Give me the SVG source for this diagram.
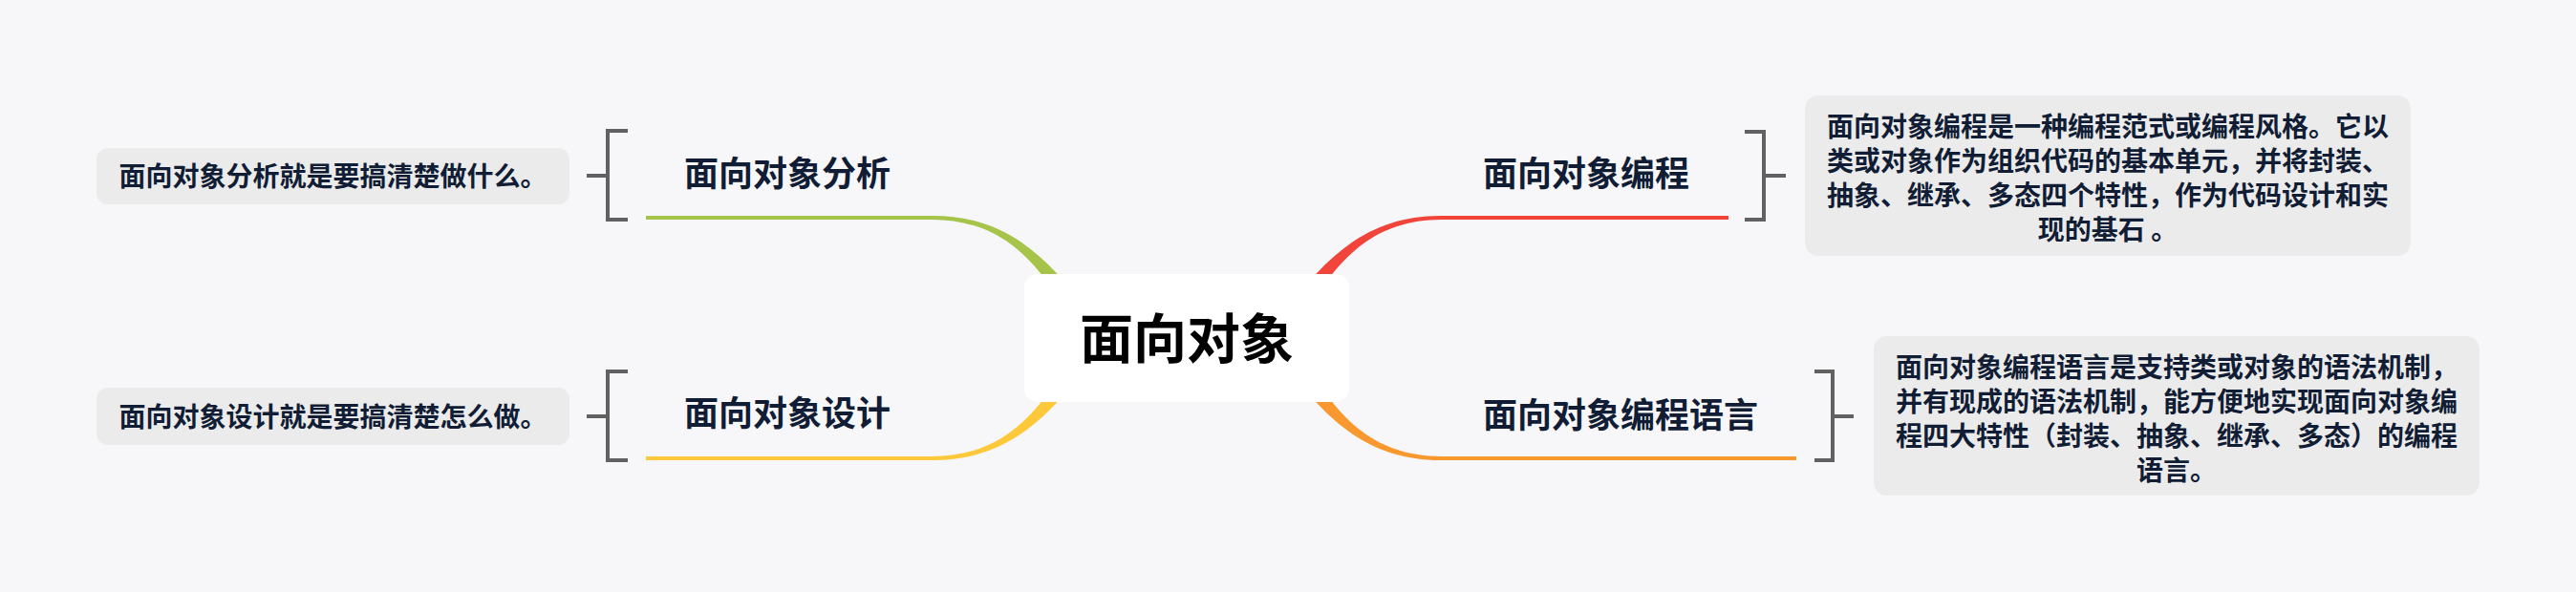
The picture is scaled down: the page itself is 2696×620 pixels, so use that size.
<svg xmlns="http://www.w3.org/2000/svg" width="2696" height="620" viewBox="0 0 2696 620">
  <style>
    .branch { font-family: "Noto Sans CJK SC", "Noto Sans", sans-serif; font-weight: 700; font-size: 36px; fill: #111d35; }
    .desc { font-family: "Noto Sans CJK SC", "Noto Sans", sans-serif; font-weight: 700; font-size: 28px; fill: #111d35; text-anchor: middle; }
    .main { font-family: "Noto Sans CJK SC", "Noto Sans", sans-serif; font-weight: 700; font-size: 56px; fill: #000000; text-anchor: middle; }
    .box { fill: #ebebeb; }
    .bracket { fill: none; stroke: #616161; stroke-width: 4; }
  </style>
  <rect x="0" y="0" width="2696" height="620" fill="#f7f7f9"/>

  <g id="connectors">
    <path fill="#a6c44a" d="M 676 226 H 975 C 1050 225.5 1095 266.7 1137.5 325 L 1122.5 335 C 1085 273.3 1050 230.5 975 230 H 676 Z"/>
    <path fill="#f1443a" d="M 1809 226 H 1509 C 1434 225.5 1389 266.7 1346.5 325 L 1361.5 335 C 1399 273.3 1434 230.5 1509 230 H 1809 Z"/>
    <path fill="#fdc93b" d="M 676 482 H 975 C 1050 482.5 1095 441.3 1137.5 383 L 1122.5 373 C 1085 434.7 1050 477.5 975 478 H 676 Z"/>
    <path fill="#f8982f" d="M 1880 482 H 1509 C 1434 482.5 1389 441.3 1346.5 383 L 1361.5 373 C 1399 434.7 1434 477.5 1509 478 H 1880 Z"/>
    <path class="bracket" d="M 657 137 H 636 V 230 H 657 M 636 184 H 614"/>
    <path class="bracket" d="M 657 389 H 636 V 482 H 657 M 636 436 H 614"/>
    <path class="bracket" d="M 1826 138 H 1846 V 230 H 1826 M 1846 184 H 1869"/>
    <path class="bracket" d="M 1899 389 H 1918 V 482 H 1899 M 1918 436 H 1940"/>
  </g>

  <g id="root">
    <rect x="1072" y="287" width="340" height="134" rx="14" fill="#ffffff"/>
    <text class="main" x="1242" y="375">面向对象</text>
  </g>

  <g id="node-analysis">
    <text class="branch" x="716" y="195">面向对象分析</text>
  </g>
  <g id="node-design">
    <text class="branch" x="716" y="446">面向对象设计</text>
  </g>
  <g id="node-programming">
    <text class="branch" x="1552" y="195">面向对象编程</text>
  </g>
  <g id="node-language">
    <text class="branch" x="1552" y="448">面向对象编程语言</text>
  </g>

  <g id="desc-analysis">
    <rect class="box" x="101" y="155" width="495" height="59" rx="12"/>
    <text class="desc" x="348.5" y="194.5">面向对象分析就是要搞清楚做什么。</text>
  </g>
  <g id="desc-design">
    <rect class="box" x="101" y="406" width="495" height="60" rx="12"/>
    <text class="desc" x="348.5" y="446.5">面向对象设计就是要搞清楚怎么做。</text>
  </g>
  <g id="desc-programming">
    <rect class="box" x="1889" y="100" width="634" height="168" rx="14"/>
    <text class="desc" x="2206" y="143">面向对象编程是一种编程范式或编程风格。它以</text>
    <text class="desc" x="2206" y="179">类或对象作为组织代码的基本单元，并将封装、</text>
    <text class="desc" x="2206" y="215">抽象、继承、多态四个特性，作为代码设计和实</text>
    <text class="desc" x="2206" y="251">现的基石 。</text>
  </g>
  <g id="desc-language">
    <rect class="box" x="1961" y="352" width="634" height="167" rx="14"/>
    <text class="desc" x="2278" y="395">面向对象编程语言是支持类或对象的语法机制，</text>
    <text class="desc" x="2278" y="431">并有现成的语法机制，能方便地实现面向对象编</text>
    <text class="desc" x="2278" y="467">程四大特性（封装、抽象、继承、多态）的编程</text>
    <text class="desc" x="2278" y="503">语言。</text>
  </g>
</svg>
